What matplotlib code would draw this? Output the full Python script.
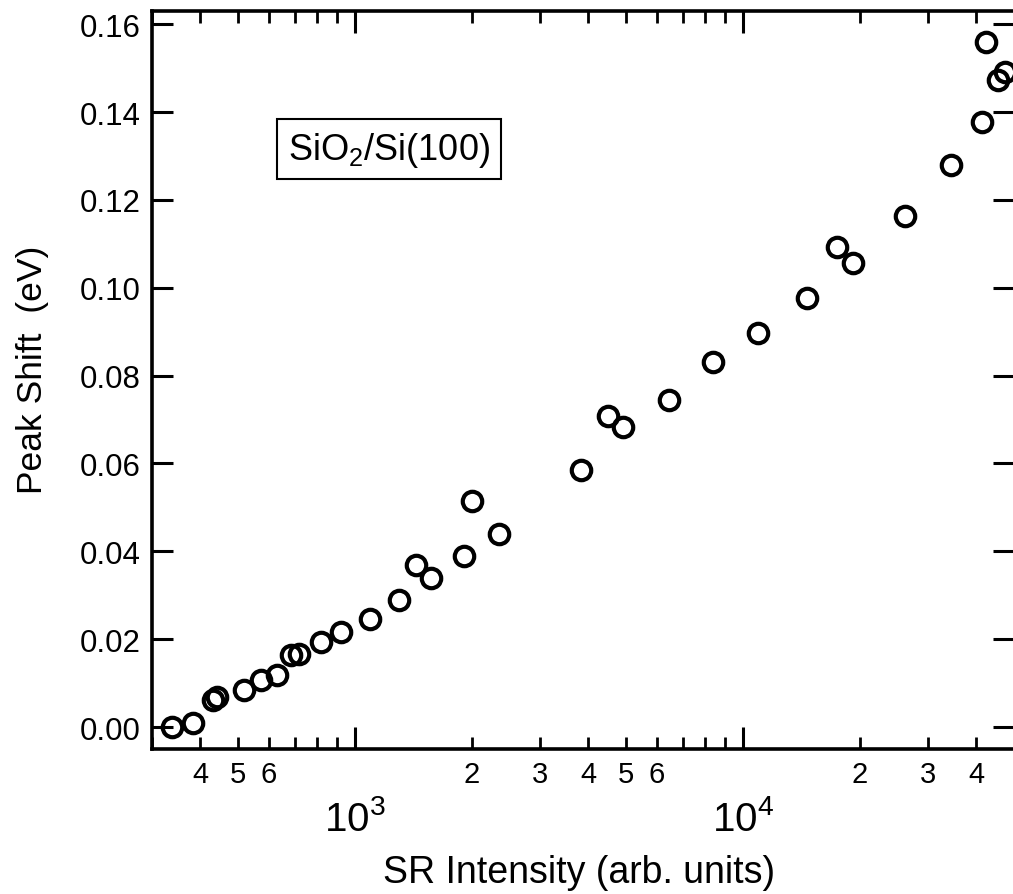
import numpy as np
import matplotlib
matplotlib.use('Agg')
from matplotlib import pyplot as plt
from matplotlib.ticker import LogLocator, FuncFormatter, MultipleLocator

# SR intensity (arb. units) vs peak shift (eV)
sr_intensity = [338, 382, 432, 442, 518, 573, 630, 684, 717, 818, 920,
                1093, 1298, 1436, 1570, 1909, 2003, 2351, 3822, 4486, 4906,
                6449, 8370, 10940, 14630, 17470, 19220, 26180, 34370,
                41300, 42280, 45390, 47300]
peak_shift = [0.0000, 0.0010, 0.0062, 0.0068, 0.0084, 0.0107, 0.0118,
              0.0164, 0.0166, 0.0193, 0.0216, 0.0245, 0.0290, 0.0368,
              0.0340, 0.0389, 0.0514, 0.0439, 0.0586, 0.0707, 0.0682,
              0.0745, 0.0832, 0.0898, 0.0977, 0.1093, 0.1057, 0.1164,
              0.1280, 0.1377, 0.1560, 0.1473, 0.1490]

sample_label = 'SiO$_2$/Si(100)'

plt.rcParams['font.family'] = ['Liberation Sans', 'DejaVu Sans']
plt.rcParams['mathtext.fontset'] = 'custom'
plt.rcParams['mathtext.rm'] = 'Liberation Sans'
plt.rcParams['mathtext.it'] = 'Liberation Sans'

fig = plt.figure(figsize=(10.13, 8.95), dpi=100)
ax = fig.add_axes([0.150, 0.162, 0.851, 0.8246])

ax.plot(sr_intensity, peak_shift, linestyle='none', marker='o',
        markersize=14, markerfacecolor='none', markeredgecolor='black',
        markeredgewidth=3.0)

ax.set_xscale('log')
ax.set_xlim(300, 50000)
ax.set_ylim(-0.005, 0.163)

ax.yaxis.set_major_locator(MultipleLocator(0.02))
ax.yaxis.set_major_formatter(FuncFormatter(lambda v, p: '%.2f' % v))

ax.xaxis.set_major_locator(LogLocator(base=10))
ax.xaxis.set_major_formatter(FuncFormatter(
    lambda v, p: r'$10^{%d}$' % int(round(np.log10(v)))))
ax.xaxis.set_minor_locator(LogLocator(base=10, subs=np.arange(2, 10)))


def minor_fmt(v, p):
    mant = v / 10 ** np.floor(np.log10(v) + 1e-9)
    m = int(round(mant))
    # only 2..6 get a digit; skip the ones on the frame edges
    if v < 350 or v > 48000 or m > 6:
        return ''
    return str(m)


ax.xaxis.set_minor_formatter(FuncFormatter(minor_fmt))

for s in ax.spines.values():
    s.set_linewidth(2.6)

ax.tick_params(axis='y', which='major', direction='in', length=15, width=2.2,
               left=True, right=True, labelsize=22.5, pad=8)
ax.tick_params(axis='x', which='major', direction='in', length=16, width=2.2,
               top=True, bottom=True, labelsize=29, pad=36)
ax.tick_params(axis='x', which='minor', direction='in', length=8.5, width=2.0,
               top=True, bottom=True, labelsize=21, pad=8)

ax.set_xlabel('SR Intensity (arb. units)', fontsize=27)
ax.set_ylabel('Peak Shift  (eV)', fontsize=25.5)
ax.xaxis.set_label_coords(0.495, -0.1667)
ax.xaxis.label.set_va('center')
ax.yaxis.set_label_coords(-0.138, 0.515)
ax.yaxis.label.set_va('center')

ax.text(0.158, 0.813, sample_label, transform=ax.transAxes, fontsize=26,
        ha='left', va='center',
        bbox=dict(boxstyle='square,pad=0.3', facecolor='white',
                  edgecolor='black', linewidth=1.5))

fig.savefig('out.png', dpi=100)
